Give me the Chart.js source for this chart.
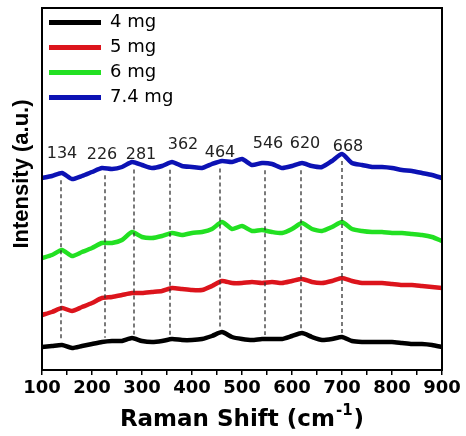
<!doctype html>
<html lang="en">
  <head>
    <meta charset="UTF-8" />
    <title>Raman spectra</title>
    <script src="https://cdn.jsdelivr.net/npm/chart.js"></script>
    <style>
      body {
        margin: 0;
        background: #fff;
      }
      #wrap {
        width: 466px;
        height: 436px;
      }
    </style>
  </head>
  <body>
    <div id="wrap"><canvas id="raman"></canvas></div>

    <script>
      // Raman shift (cm-1), sampled every 20
      const shiftX = [
        100, 120, 140, 160, 180, 200, 220, 240, 260, 280, 300, 320, 340, 360,
        380, 400, 420, 440, 460, 480, 500, 520, 540, 560, 580, 600, 620, 640,
        660, 680, 700, 720, 740, 760, 780, 800, 820, 840, 860, 880, 900,
      ];

      // intensities (a.u.), curves already offset as in the figure
      const mg4 = [
        23, 24, 25, 22, 24, 26, 28, 29, 29, 32, 29, 28, 29, 31, 30, 30, 31, 34,
        38, 33, 31, 30, 31, 31, 31, 34, 37, 33, 30, 31, 33, 29, 28, 28, 28, 28,
        27, 26, 26, 25, 23,
      ];
      const mg5 = [
        55, 58, 62, 59, 63, 67, 72, 73, 75, 77, 77, 78, 79, 82, 81, 80, 80, 84,
        89, 87, 87, 88, 87, 88, 87, 89, 91, 88, 87, 89, 92, 89, 87, 87, 87, 86,
        85, 85, 84, 83, 82,
      ];
      const mg6 = [
        112, 115, 120, 114, 118, 122, 127, 127, 130, 138, 133, 132, 134, 137,
        135, 137, 138, 141, 148, 141, 144, 139, 140, 138, 137, 141, 147, 141,
        139, 143, 148, 141, 139, 138, 138, 137, 137, 136, 135, 133, 129,
      ];
      const mg74 = [
        192, 194, 197, 191, 194, 198, 202, 201, 203, 208, 205, 202, 204, 208,
        204, 203, 202, 206, 209, 208, 211, 205, 207, 206, 202, 204, 207, 204,
        203, 209, 216, 207, 205, 203, 203, 202, 200, 199, 197, 195, 192,
      ];

      const seriesNames = ["4 mg", "5 mg", "6 mg", "7.4 mg"];
      const seriesColors = ["#000000", "#dc141c", "#22e022", "#0c12b4"];

      // peak markers: where the dashed line sits, its label and label spot
      const peakPos = [138, 226, 284, 356, 456, 546, 618, 700];
      const peakText = ["134", "226", "281", "362", "464", "546", "620", "668"];
      const peakLabelX = [140, 220, 298, 382, 456, 552, 626, 712];
      const peakLabelY = [216, 215, 215, 225, 217, 226, 226, 223];

      function series(vals) {
        return shiftX.map((x, i) => ({ x: x, y: vals[i] }));
      }

      function valueAt(vals, x) {
        for (let i = 0; i < shiftX.length - 1; i++) {
          if (x >= shiftX[i] && x <= shiftX[i + 1]) {
            const t = (x - shiftX[i]) / (shiftX[i + 1] - shiftX[i]);
            return vals[i] + t * (vals[i + 1] - vals[i]);
          }
        }
        return vals[vals.length - 1];
      }

      const peakPlugin = {
        id: "peaks",
        afterDatasetsDraw(chart) {
          const ctx = chart.ctx;
          const xs = chart.scales.x;
          const ys = chart.scales.y;
          ctx.save();
          ctx.strokeStyle = "#333";
          ctx.lineWidth = 1.3;
          ctx.setLineDash([4, 3]);
          peakPos.forEach((p) => {
            const px = xs.getPixelForValue(p);
            ctx.beginPath();
            ctx.moveTo(px, ys.getPixelForValue(valueAt(mg74, p) - 7));
            ctx.lineTo(px, ys.getPixelForValue(valueAt(mg4, p) + 4));
            ctx.stroke();
          });
          ctx.setLineDash([]);
          ctx.fillStyle = "#222";
          ctx.font = "16px 'DejaVu Sans'";
          ctx.textAlign = "center";
          ctx.textBaseline = "middle";
          peakText.forEach((t, i) => {
            ctx.fillText(
              t,
              xs.getPixelForValue(peakLabelX[i]),
              ys.getPixelForValue(peakLabelY[i]),
            );
          });
          ctx.restore();
        },
        afterDraw(chart) {
          const ctx = chart.ctx;
          const a = chart.chartArea;
          ctx.save();
          ctx.strokeStyle = "#000";
          ctx.lineWidth = 2;
          ctx.strokeRect(a.left, a.top, a.right - a.left, a.bottom - a.top);

          // x title with superscript
          ctx.fillStyle = "#000";
          ctx.textBaseline = "alphabetic";
          ctx.textAlign = "left";
          const main = "Raman Shift (cm";
          const sup = "-1";
          const close = ")";
          ctx.font = "bold 23px 'DejaVu Sans'";
          const wMain = ctx.measureText(main).width;
          const wClose = ctx.measureText(close).width;
          ctx.font = "bold 15px 'DejaVu Sans'";
          const wSup = ctx.measureText(sup).width;
          const total = wMain + wSup + wClose + 2;
          let x0 = (a.left + a.right) / 2 - total / 2;
          const base = 426;
          ctx.font = "bold 23px 'DejaVu Sans'";
          ctx.fillText(main, x0, base);
          ctx.font = "bold 15px 'DejaVu Sans'";
          ctx.fillText(sup, x0 + wMain + 1, base - 11);
          ctx.font = "bold 23px 'DejaVu Sans'";
          ctx.fillText(close, x0 + wMain + wSup + 2, base);

          // y title
          ctx.translate(22, 174);
          ctx.rotate(-Math.PI / 2);
          ctx.textAlign = "center";
          ctx.textBaseline = "middle";
          ctx.font = "bold 22px 'Liberation Sans'";
          ctx.fillText("Intensity (a.u.)", 0, 0);
          ctx.restore();
        },
      };

      Chart.defaults.font.family = "'DejaVu Sans', sans-serif";
      Chart.defaults.color = "#000";

      new Chart(document.getElementById("raman"), {
        type: "line",
        data: {
          datasets: [mg4, mg5, mg6, mg74].map((vals, i) => ({
            label: seriesNames[i],
            data: series(vals),
            borderColor: seriesColors[i],
            backgroundColor: seriesColors[i],
            borderWidth: 4.5,
            pointRadius: 0,
            tension: 0.2,
          })),
        },
        options: {
          responsive: true,
          maintainAspectRatio: false,
          animation: false,
          layout: { padding: { top: 8, right: 24, left: 0, bottom: 0 } },
          plugins: {
            tooltip: { enabled: false },
            legend: {
              position: "chartArea",
              align: "start",
              title: {
                display: true,
                text: "",
                font: { size: 2 },
                padding: { top: 2, bottom: 2 },
              },
              labels: {
                boxWidth: 52,
                boxHeight: 5,
                padding: 7,
                color: "#000",
                font: { size: 18 },
                generateLabels: (chart) =>
                  Chart.defaults.plugins.legend.labels
                    .generateLabels(chart)
                    .map((it) => ({ ...it, lineWidth: 0 })),
              },
            },
          },
          scales: {
            x: {
              type: "linear",
              min: 100,
              max: 900,
              afterFit: (s) => {
                s.height = 66;
              },
              border: { display: false },
              grid: {
                drawOnChartArea: false,
                drawTicks: true,
                tickLength: 5,
                color: "#000",
                lineWidth: 1.5,
              },
              ticks: {
                stepSize: 50,
                autoSkip: false,
                maxRotation: 0,
                padding: 3,
                color: "#000",
                font: { size: 18, weight: "bold" },
                callback: (v) => (v % 100 === 0 ? v : ""),
              },
            },
            y: {
              min: 0,
              max: 362,
              afterFit: (s) => {
                s.width = 42;
              },
              border: { display: false },
              grid: { display: false },
              ticks: { display: false },
            },
          },
        },
        plugins: [peakPlugin],
      });
    </script>
  </body>
</html>
